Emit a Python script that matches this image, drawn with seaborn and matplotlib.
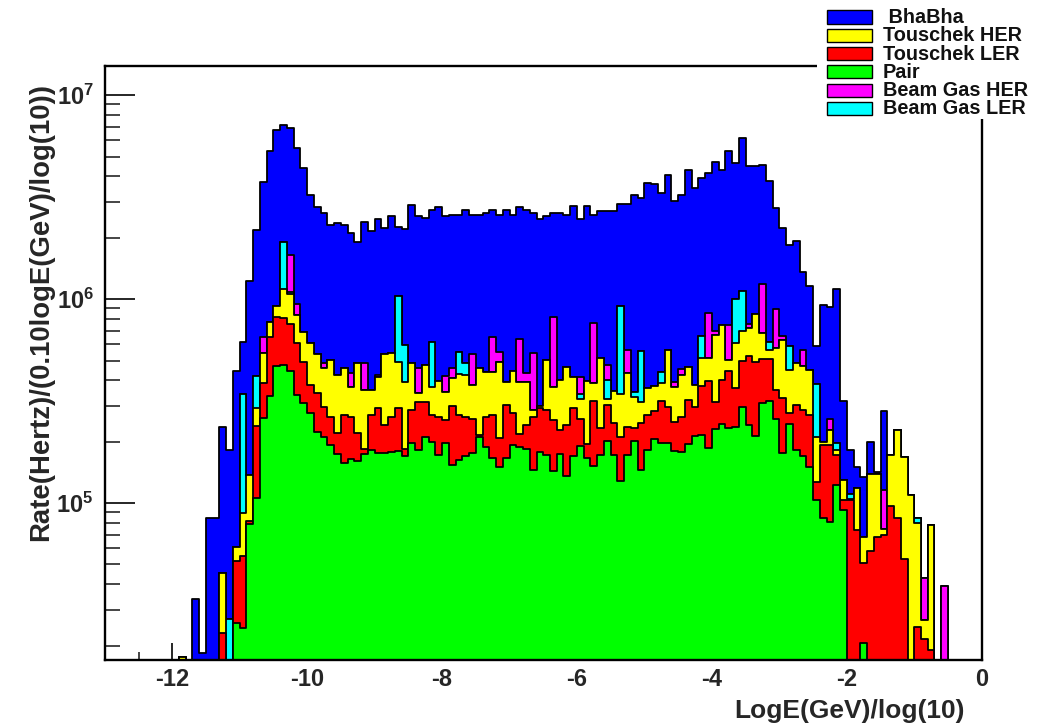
import numpy as np
import pandas as pd
import matplotlib
matplotlib.use("Agg")
import matplotlib.pyplot as plt
from matplotlib.patches import Rectangle
from matplotlib.ticker import FixedLocator, LogLocator, FuncFormatter, NullFormatter
import seaborn as sns

# Histogram binning: 0.1 wide bins in log10(E/GeV), first bin starts at -11.9
bin_start = -11.9
bin_width = 0.1

# Stacked levels (cumulative rate, Hz per 0.1 log10 E) for each bin.
# 0 means the layer adds nothing on top of the layers below it.
pair = [
    0, 0, 0, 0, 0, 0, 0, 0, 2.58e4, 2.44e4,
    7.9e4, 1.06e5, 2.6e5, 3.36e5, 4.68e5, 4.73e5, 4.45e5, 3.38e5, 3.08e5, 2.75e5,
    2.24e5, 2.11e5, 1.92e5, 1.74e5, 1.58e5, 1.64e5, 1.61e5, 1.74e5, 1.83e5, 1.75e5,
    1.75e5, 1.78e5, 1.80e5, 1.70e5, 1.96e5, 1.82e5, 2.10e5, 2.00e5, 1.72e5, 1.96e5,
    1.54e5, 1.63e5, 1.70e5, 1.75e5, 2.11e5, 1.89e5, 1.67e5, 1.50e5, 1.67e5, 1.92e5,
    1.89e5, 1.85e5, 1.45e5, 1.78e5, 1.73e5, 1.43e5, 1.74e5, 1.35e5, 1.70e5, 1.90e5,
    1.67e5, 1.52e5, 1.73e5, 2.02e5, 1.73e5, 1.28e5, 1.73e5, 2.02e5, 1.46e5, 1.83e5,
    2.06e5, 1.98e5, 1.98e5, 1.80e5, 1.78e5, 1.94e5, 2.13e5, 2.16e5, 1.87e5, 2.31e5,
    2.44e5, 2.33e5, 2.37e5, 2.95e5, 2.42e5, 2.13e5, 3.09e5, 3.16e5, 2.58e5, 1.76e5,
    2.44e5, 1.83e5, 1.70e5, 1.51e5, 1.03e5, 8.4e4, 8.1e4, 1.22e5, 9.2e4, 0,
    0, 2.05e4, 0, 0, 0, 0, 0, 0, 0, 0,
    0, 0, 0, 0,
]
touschek_ler = [
    0, 0, 0, 0, 0, 0, 2.30e4, 0, 5.2e4, 5.5e4,
    8.2e4, 2.38e5, 3.9e5, 6.53e5, 8.15e5, 8.07e5, 7.51e5, 6.1e5, 4.93e5, 3.79e5,
    3.45e5, 2.97e5, 2.65e5, 2.20e5, 2.70e5, 2.65e5, 2.20e5, 1.85e5, 2.70e5, 2.93e5,
    2.41e5, 2.63e5, 2.93e5, 1.85e5, 2.86e5, 3.14e5, 3.14e5, 2.70e5, 2.63e5, 2.55e5,
    3.00e5, 2.70e5, 2.63e5, 2.57e5, 2.16e5, 2.63e5, 2.70e5, 2.08e5, 3.03e5, 2.75e5,
    2.18e5, 2.41e5, 2.63e5, 2.93e5, 2.85e5, 2.55e5, 2.28e5, 2.42e5, 2.93e5, 2.58e5,
    1.94e5, 3.16e5, 2.33e5, 3.04e5, 2.46e5, 2.11e5, 2.37e5, 2.33e5, 2.46e5, 2.71e5,
    2.84e5, 3.16e5, 2.95e5, 2.51e5, 2.65e5, 3.21e5, 2.95e5, 3.74e5, 3.98e5, 3.13e5,
    4.03e5, 4.46e5, 3.68e5, 5.00e5, 5.24e5, 4.94e5, 5.07e5, 5.07e5, 3.57e5, 3.29e5,
    2.75e5, 3.01e5, 2.85e5, 2.70e5, 1.27e5, 1.92e5, 1.92e5, 1.72e5, 1.04e5, 1.03e5,
    7.4e4, 5.1e4, 5.8e4, 6.8e4, 7.0e4, 9.7e4, 8.4e4, 5.3e4, 0, 2.48e4,
    2.15e4, 1.9e4, 0, 0,
]
touschek_her = [
    1.75e4, 0, 0, 0, 0, 0, 4.56e4, 0, 6.1e4, 8.9e4,
    1.38e5, 2.93e5, 5.45e5, 7.76e5, 9.27e5, 1.12e6, 1.06e6, 8.4e5, 6.92e5, 6.07e5,
    5.38e5, 4.57e5, 5.02e5, 4.24e5, 4.62e5, 3.71e5, 4.88e5, 3.58e5, 3.58e5, 4.16e5,
    5.38e5, 5.46e5, 4.93e5, 3.93e5, 4.88e5, 3.45e5, 4.75e5, 3.71e5, 3.98e5, 3.51e5,
    4.10e5, 4.28e5, 4.24e5, 3.79e5, 4.62e5, 4.40e5, 4.40e5, 4.93e5, 3.93e5, 4.42e5,
    3.93e5, 3.93e5, 2.86e5, 3.00e5, 5.05e5, 3.71e5, 4.01e5, 4.63e5, 4.17e5, 3.25e5,
    3.98e5, 3.86e5, 5.13e5, 3.25e5, 3.55e5, 3.44e5, 4.32e5, 3.31e5, 3.13e5, 3.68e5,
    3.74e5, 3.86e5, 5.65e5, 3.71e5, 4.24e5, 4.63e5, 3.79e5, 5.13e5, 5.13e5, 6.70e5,
    7.43e5, 5.04e5, 6.10e5, 6.97e5, 7.24e5, 8.43e5, 6.84e5, 5.61e5, 5.76e5, 6.33e5,
    4.49e5, 4.88e5, 4.70e5, 4.49e5, 2.11e5, 2.00e5, 2.28e5, 1.82e5, 1.30e5, 1.05e5,
    1.19e5, 6.8e4, 1.39e5, 1.39e5, 7.5e4, 1.72e5, 2.28e5, 1.68e5, 1.10e5, 8.0e4,
    2.67e4, 7.8e4, 0, 0,
]
beam_gas_ler = [
    0, 0, 0, 0, 0, 0, 0, 2.70e4, 0, 3.42e5,
    0, 4.2e5, 0, 0, 0, 1.9e6, 1.08e6, 0, 0, 0,
    0, 0, 0, 0, 0, 0, 0, 0, 0, 0,
    0, 0, 1.03e6, 5.96e5, 0, 0, 0, 6.14e5, 0, 0,
    0, 5.52e5, 4.88e5, 0, 0, 0, 0, 0, 0, 0,
    0, 0, 0, 0, 0, 0, 0, 0, 0, 3.44e5,
    0, 0, 0, 4.01e5, 0, 9.27e5, 0, 3.51e5, 5.54e5, 0,
    0, 4.41e5, 0, 0, 0, 0, 0, 6.63e5, 0, 0,
    0, 0, 1.00e6, 1.09e6, 0, 0, 0, 6.14e5, 0, 0,
    5.87e5, 0, 0, 0, 3.82e5, 0, 0, 1.98e5, 0, 1.11e5,
    0, 0, 0, 0, 0, 0, 0, 0, 0, 8.4e4,
    0, 0, 0, 0,
]
beam_gas_her = [
    0, 0, 0, 0, 0, 0, 0, 0, 0, 0,
    0, 0, 6.5e5, 0, 0, 0, 1.65e6, 9.5e5, 0, 0,
    0, 4.88e5, 0, 0, 0, 4.32e5, 0, 4.88e5, 0, 4.24e5,
    0, 0, 0, 0, 0, 4.57e5, 0, 0, 0, 4.2e5,
    4.62e5, 0, 0, 5.38e5, 0, 0, 6.53e5, 5.52e5, 0, 0,
    6.37e5, 4.32e5, 5.46e5, 0, 0, 8.2e5, 0, 0, 0, 4.17e5,
    0, 7.66e5, 0, 4.75e5, 0, 0, 5.65e5, 0, 0, 0,
    0, 0, 0, 3.93e5, 4.53e5, 0, 0, 0, 8.59e5, 6.97e5,
    0, 7.43e5, 0, 0, 7.52e5, 0, 1.19e6, 0, 8.93e5, 6.63e5,
    0, 0, 5.62e5, 0, 0, 0, 2.57e5, 0, 0, 0,
    0, 0, 0, 0, 1.16e5, 0, 0, 0, 0, 0,
    4.3e4, 0, 0, 3.9e4,
]
bhabha = [
    0, 0, 3.38e4, 1.85e4, 8.4e4, 8.4e4, 2.36e5, 1.83e5, 4.45e5, 6.15e5,
    1.22e6, 2.19e6, 3.77e6, 5.31e6, 6.77e6, 7.18e6, 6.90e6, 5.53e6, 4.4e6, 3.24e6,
    2.83e6, 2.63e6, 2.31e6, 2.37e6, 2.32e6, 2.10e6, 1.91e6, 2.39e6, 2.16e6, 2.46e6,
    2.24e6, 2.56e6, 2.26e6, 2.20e6, 2.91e6, 2.55e6, 2.49e6, 2.73e6, 2.82e6, 2.55e6,
    2.58e6, 2.58e6, 2.75e6, 2.58e6, 2.58e6, 2.63e6, 2.75e6, 2.58e6, 2.75e6, 2.58e6,
    2.82e6, 2.73e6, 2.65e6, 2.46e6, 2.55e6, 2.65e6, 2.65e6, 2.58e6, 2.86e6, 2.48e6,
    2.86e6, 2.58e6, 2.70e6, 2.70e6, 2.70e6, 2.94e6, 2.94e6, 3.24e6, 3.13e6, 3.73e6,
    3.66e6, 3.31e6, 4.07e6, 3.03e6, 3.24e6, 4.30e6, 3.49e6, 3.93e6, 4.14e6, 4.69e6,
    4.32e6, 5.32e6, 4.64e6, 6.2e6, 4.47e6, 4.47e6, 4.52e6, 3.81e6, 2.81e6, 2.23e6,
    1.85e6, 1.93e6, 1.36e6, 1.16e6, 5.89e5, 9.36e5, 9.17e5, 1.12e6, 3.16e5, 1.82e5,
    1.51e5, 1.34e5, 2.0e5, 1.42e5, 2.83e5, 0, 0, 0, 0, 0,
    0, 0, 0, 0,
]

# Stack order from the bottom up, with fill colours
stack_names = ["Pair", "Touschek LER", "Touschek HER", "Beam Gas LER", "Beam Gas HER", "BhaBha"]
stack_colors = ["#00ff00", "#ff0000", "#ffff00", "#00ffff", "#ff00ff", "#0000ff"]

# Legend rows, top to bottom
legend_labels = [" BhaBha", "Touschek HER", "Touschek LER", "Pair", "Beam Gas HER", "Beam Gas LER"]
legend_colors = ["#0000ff", "#ffff00", "#ff0000", "#00ff00", "#ff00ff", "#00ffff"]

x_ticks = [-12, -10, -8, -6, -4, -2, 0]

sns.set_style("white")
plt.rcParams.update({
    "font.family": ["Liberation Sans", "DejaVu Sans"],
    "font.weight": "bold",
    "axes.unicode_minus": False,
    "mathtext.fontset": "custom",
    "mathtext.rm": "Liberation Sans:bold",
    "mathtext.bf": "Liberation Sans:bold",
    "mathtext.it": "Liberation Sans:bold",
})

W, H = 1042, 727
fig = plt.figure(figsize=(W / 100, H / 100), dpi=100)
left, right, top, bottom = 104.8, 981.7, 66, 660
ax = fig.add_axes([left / W, 1 - bottom / H, (right - left) / W, (bottom - top) / H])

levels = np.maximum.accumulate(
    np.array([pair, touschek_ler, touschek_her, beam_gas_ler, beam_gas_her, bhabha], dtype=float),
    axis=0,
)
n_bins = levels.shape[1]
edges = [float(e) for e in bin_start + bin_width * np.arange(n_bins + 1)]
centers = [0.5 * (edges[i] + edges[i + 1]) for i in range(n_bins)]

# Draw like a THStack: the full sum first, then each lower partial sum over it
for k in range(len(stack_names) - 1, -1, -1):
    layer = pd.DataFrame({"logE": centers, "rate": levels[k]})
    sns.histplot(
        data=layer, x="logE", weights="rate", bins=edges, element="step", fill=True,
        color=stack_colors[k], alpha=1.0, edgecolor="black", linewidth=1.3, ax=ax,
    )

ax.set_yscale("log")
ax.set_xlim(-13, 0)
ax.set_ylim(1.70e4, 1.39e7)
ax.set_axisbelow(True)

for side in ["left", "right", "top", "bottom"]:
    ax.spines[side].set_linewidth(1.7)
    ax.spines[side].set_color("black")
    ax.spines[side].set_zorder(5)

ax.xaxis.set_major_locator(FixedLocator(x_ticks))
ax.xaxis.set_minor_locator(FixedLocator(np.arange(-13, 0.01, 0.5)))
ax.xaxis.set_major_formatter(FuncFormatter(lambda v, p: f"{int(round(v))}"))
ax.yaxis.set_major_locator(LogLocator(base=10, numticks=10))
ax.yaxis.set_minor_locator(LogLocator(base=10, subs=np.arange(2, 10), numticks=20))
ax.yaxis.set_minor_formatter(NullFormatter())
ax.yaxis.set_major_formatter(FuncFormatter(lambda v, p: r"$\mathbf{10^{%d}}$" % int(round(np.log10(v)))))

ax.tick_params(axis="x", which="major", direction="in", length=12, width=1.4,
               labelsize=17, pad=6, top=False, bottom=True)
ax.tick_params(axis="x", which="minor", direction="in", length=6, width=1.2, top=False, bottom=True)
ax.tick_params(axis="y", which="major", direction="in", length=21.5, width=1.4,
               labelsize=17, pad=8, left=True, right=False)
ax.tick_params(axis="y", which="minor", direction="in", length=10.5, width=1.2, left=True, right=False)
for lab in ax.get_xticklabels() + ax.get_yticklabels():
    lab.set_fontweight("bold")

ax.set_xlabel("LogE(GeV)/log(10)", fontsize=19, fontweight="bold")
ax.xaxis.set_label_coords((965 - left) / (right - left), (bottom - 711) / (bottom - top))
ax.xaxis.label.set_ha("right")
ax.xaxis.label.set_va("center")

ax.set_ylabel("Rate(Hertz)/(0.10logE(GeV)/log(10))", fontsize=19.8, fontweight="bold")
ax.yaxis.set_label_coords((41 - left) / (right - left), (bottom - 83) / (bottom - top))
ax.yaxis.label.set_ha("right")
ax.yaxis.label.set_va("center")

# Legend panel in the top-right corner
fig.add_artist(Rectangle((817 / W, 1 - 119 / H), (W - 817) / W, 119 / H + 0.01,
                         transform=fig.transFigure, facecolor="white", edgecolor="none", zorder=20))
for i, (lab, col) in enumerate(zip(legend_labels, legend_colors)):
    yc = 17.0 + 18.3 * i
    fig.add_artist(Rectangle((827 / W, 1 - (yc + 6.5) / H), 45 / W, 13 / H,
                             transform=fig.transFigure, facecolor=col, edgecolor="black",
                             linewidth=1.0, zorder=21))
    fig.text(883 / W, 1 - (yc + 0.5) / H, lab, ha="left", va="center", fontsize=14.3,
             fontweight="bold", color="#111111", zorder=22)

fig.savefig("out.png", dpi=100)
